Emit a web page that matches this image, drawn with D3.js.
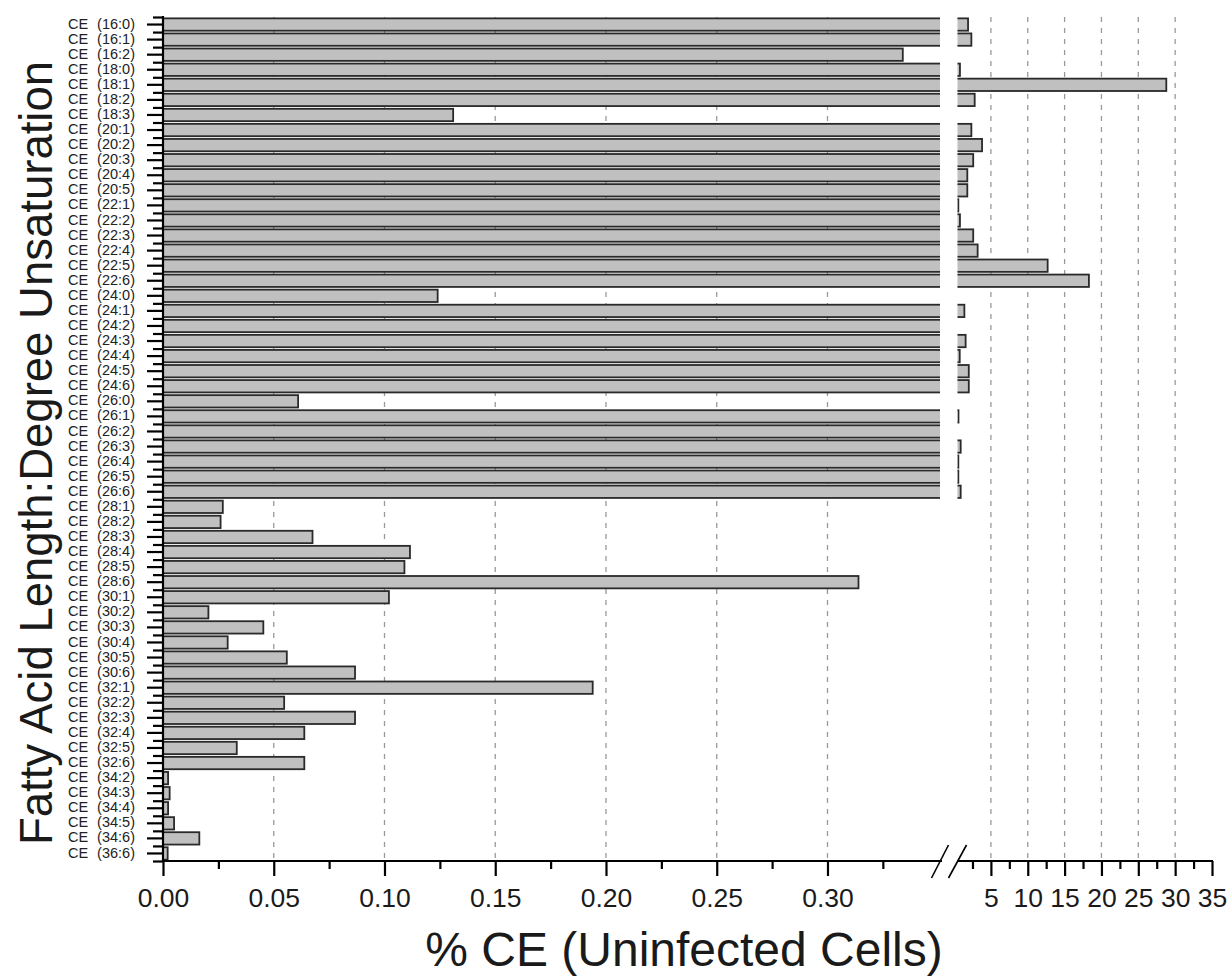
<!DOCTYPE html>
<html>
<head>
<meta charset="utf-8">
<script src="https://cdn.jsdelivr.net/npm/d3@7"></script>
<style>
  body { margin: 0; background: #fff; }
  text { font-family: "Liberation Sans", Arial, sans-serif; }
</style>
</head>
<body>
<svg id="chart" width="1227" height="979"></svg>
<script>
// Cholesteryl ester species, ordered by chain length : degree of unsaturation
const categories = [
  "CE (16:0)", "CE (16:1)", "CE (16:2)", "CE (18:0)", "CE (18:1)", "CE (18:2)", "CE (18:3)",
  "CE (20:1)", "CE (20:2)", "CE (20:3)", "CE (20:4)", "CE (20:5)",
  "CE (22:1)", "CE (22:2)", "CE (22:3)", "CE (22:4)", "CE (22:5)", "CE (22:6)",
  "CE (24:0)", "CE (24:1)", "CE (24:2)", "CE (24:3)", "CE (24:4)", "CE (24:5)", "CE (24:6)",
  "CE (26:0)", "CE (26:1)", "CE (26:2)", "CE (26:3)", "CE (26:4)", "CE (26:5)", "CE (26:6)",
  "CE (28:1)", "CE (28:2)", "CE (28:3)", "CE (28:4)", "CE (28:5)", "CE (28:6)",
  "CE (30:1)", "CE (30:2)", "CE (30:3)", "CE (30:4)", "CE (30:5)", "CE (30:6)",
  "CE (32:1)", "CE (32:2)", "CE (32:3)", "CE (32:4)", "CE (32:5)", "CE (32:6)",
  "CE (34:2)", "CE (34:3)", "CE (34:4)", "CE (34:5)", "CE (34:6)", "CE (36:6)"
];

// % of total CE in uninfected cells
const values = [
  1.9, 2.35, 0.334, 0.8, 28.8, 2.8, 0.131,
  2.35, 3.8, 2.6, 1.8, 1.8,
  0.58, 0.8, 2.6, 3.2, 12.7, 18.3,
  0.124, 1.4, 0.38, 1.57, 0.77, 2.0, 2.0,
  0.061, 0.6, 0.38, 0.9, 0.58, 0.58, 0.9,
  0.027, 0.026, 0.0675, 0.1115, 0.109, 0.314,
  0.102, 0.0205, 0.0453, 0.0292, 0.0559, 0.0867,
  0.194, 0.0547, 0.0867, 0.0638, 0.0333, 0.0638,
  0.0023, 0.003, 0.0023, 0.005, 0.0164, 0.0021
];

// Broken x axis: a fine low segment and a coarse high segment
const lowDomain = [0, 0.3508];
const highDomain = [0.4, 35];
const lowMajorTicks = [0, 0.05, 0.10, 0.15, 0.20, 0.25, 0.30];
const lowMinorTicks = [0.025, 0.075, 0.125, 0.175, 0.225, 0.275, 0.325];
const highMajorTicks = [5, 10, 15, 20, 25, 30, 35];
const highMinorTicks = [2.5, 7.5, 12.5, 17.5, 22.5, 27.5, 32.5];

const xTitle = "% CE (Uninfected Cells)";
const yTitle = "Fatty Acid Length:Degree Unsaturation";

const svg = d3.select("#chart");
const plotTop = 17, plotBottom = 861;

const xLow = d3.scaleLinear().domain(lowDomain).range([163, 940]);
const xHigh = d3.scaleLinear().domain(highDomain).range([957, 1212]);
const y = d3.scaleBand().domain(categories).range([plotTop, plotBottom])
  .paddingInner(0.18).paddingOuter(0.09);
const yEdge = d3.scaleLinear().domain([0, categories.length]).range([plotTop, plotBottom]);

const defs = svg.append("defs");
defs.append("clipPath").attr("id", "clipLow").append("rect")
  .attr("x", xLow.range()[0]).attr("y", 0)
  .attr("width", xLow.range()[1] - xLow.range()[0]).attr("height", 979);
defs.append("clipPath").attr("id", "clipHigh").append("rect")
  .attr("x", xHigh.range()[0] + 0.5).attr("y", 0)
  .attr("width", xHigh.range()[1] - xHigh.range()[0]).attr("height", 979);

// Dashed vertical grid
const grid = svg.append("g").attr("stroke", "#999").attr("stroke-width", 1.3)
  .attr("stroke-dasharray", "5,6");
grid.selectAll("line.low").data(lowMajorTicks.filter(d => d > 0)).join("line")
  .attr("class", "low")
  .attr("x1", d => xLow(d)).attr("x2", d => xLow(d))
  .attr("y1", plotTop).attr("y2", plotBottom);
grid.selectAll("line.high").data(highMajorTicks.filter(d => d < highDomain[1])).join("line")
  .attr("class", "high")
  .attr("x1", d => xHigh(d)).attr("x2", d => xHigh(d))
  .attr("y1", plotTop).attr("y2", plotBottom);

const rows = categories.map((c, i) => ({ c, v: values[i] }));

// Bars in the low segment
svg.append("g").attr("clip-path", "url(#clipLow)")
  .selectAll("rect").data(rows).join("rect")
  .attr("x", xLow(0))
  .attr("y", d => y(d.c))
  .attr("width", d => xLow(Math.min(d.v, lowDomain[1] + 0.01)) - xLow(0))
  .attr("height", y.bandwidth())
  .attr("fill", "#c0c0c0").attr("stroke", "#2a2a2a").attr("stroke-width", 1.8);

// Bars continuing in the high segment
svg.append("g").attr("clip-path", "url(#clipHigh)")
  .selectAll("rect").data(rows.filter(d => d.v > highDomain[0])).join("rect")
  .attr("x", xHigh.range()[0] - 6)
  .attr("y", d => y(d.c))
  .attr("width", d => xHigh(d.v) - (xHigh.range()[0] - 6))
  .attr("height", y.bandwidth())
  .attr("fill", "#c0c0c0").attr("stroke", "#2a2a2a").attr("stroke-width", 1.8);

const tickFont = "Liberation Sans, Arial, sans-serif";

function styleAxis(g) {
  g.select(".domain").remove();
  g.selectAll(".tick line").attr("stroke", "#000").attr("stroke-width", 2.2);
  g.selectAll(".tick text").attr("fill", "#1a1a1a").attr("font-family", tickFont);
}

// Bottom axes
const axisY = plotBottom;
const lowMajor = svg.append("g").attr("transform", `translate(0,${axisY})`)
  .call(d3.axisBottom(xLow).tickValues(lowMajorTicks).tickSize(15).tickPadding(12)
    .tickFormat(d3.format(".2f")));
styleAxis(lowMajor);
lowMajor.selectAll(".tick text").attr("font-size", 26.5);

const lowMinor = svg.append("g").attr("transform", `translate(0,${axisY})`)
  .call(d3.axisBottom(xLow).tickValues(lowMinorTicks).tickSize(8).tickFormat(""));
styleAxis(lowMinor);

const highMajor = svg.append("g").attr("transform", `translate(0,${axisY})`)
  .call(d3.axisBottom(xHigh).tickValues(highMajorTicks).tickSize(15).tickPadding(12)
    .tickFormat(d3.format("d")));
styleAxis(highMajor);
highMajor.selectAll(".tick text").attr("font-size", 26.5);

const highMinor = svg.append("g").attr("transform", `translate(0,${axisY})`)
  .call(d3.axisBottom(xHigh).tickValues(highMinorTicks).tickSize(8).tickFormat(""));
styleAxis(highMinor);

// Axis lines with a gap at the break
svg.append("line").attr("x1", xLow.range()[0] - 1).attr("x2", 942)
  .attr("y1", axisY).attr("y2", axisY).attr("stroke", "#000").attr("stroke-width", 2.2);
svg.append("line").attr("x1", 958).attr("x2", xHigh.range()[1] + 1)
  .attr("y1", axisY).attr("y2", axisY).attr("stroke", "#000").attr("stroke-width", 2.2);

// Break marks
const breakG = svg.append("g").attr("stroke", "#000").attr("stroke-width", 1.6);
breakG.append("line").attr("x1", 931.5).attr("y1", axisY + 17).attr("x2", 948.5).attr("y2", axisY - 16);
breakG.append("line").attr("x1", 948.5).attr("y1", axisY + 17).attr("x2", 966.5).attr("y2", axisY - 16);

// Left axis: long ticks at each species, short ticks between them
const yMajor = svg.append("g").attr("transform", `translate(${xLow(0)},0)`)
  .call(d3.axisLeft(y).tickSize(16).tickPadding(12));
styleAxis(yMajor);
yMajor.selectAll(".tick text")
  .attr("font-size", 14.5).attr("fill", "#222")
  .attr("dy", "0.28em")
  .style("word-spacing", "5px");

const yMinor = svg.append("g").attr("transform", `translate(${xLow(0)},0)`)
  .call(d3.axisLeft(yEdge).tickValues(d3.range(categories.length + 1)).tickSize(10).tickFormat(""));
styleAxis(yMinor);

svg.append("line").attr("x1", xLow(0)).attr("x2", xLow(0))
  .attr("y1", plotTop - 1).attr("y2", axisY + 1)
  .attr("stroke", "#000").attr("stroke-width", 2.2);

// Axis titles
svg.append("text")
  .attr("x", 684).attr("y", 966)
  .attr("text-anchor", "middle")
  .attr("font-size", 48).attr("fill", "#1a1a1a")
  .text(xTitle);

svg.append("text")
  .attr("transform", "translate(52,453) rotate(-90)")
  .attr("text-anchor", "middle")
  .attr("font-size", 45.5).attr("fill", "#1a1a1a")
  .text(yTitle);
</script>
</body>
</html>
